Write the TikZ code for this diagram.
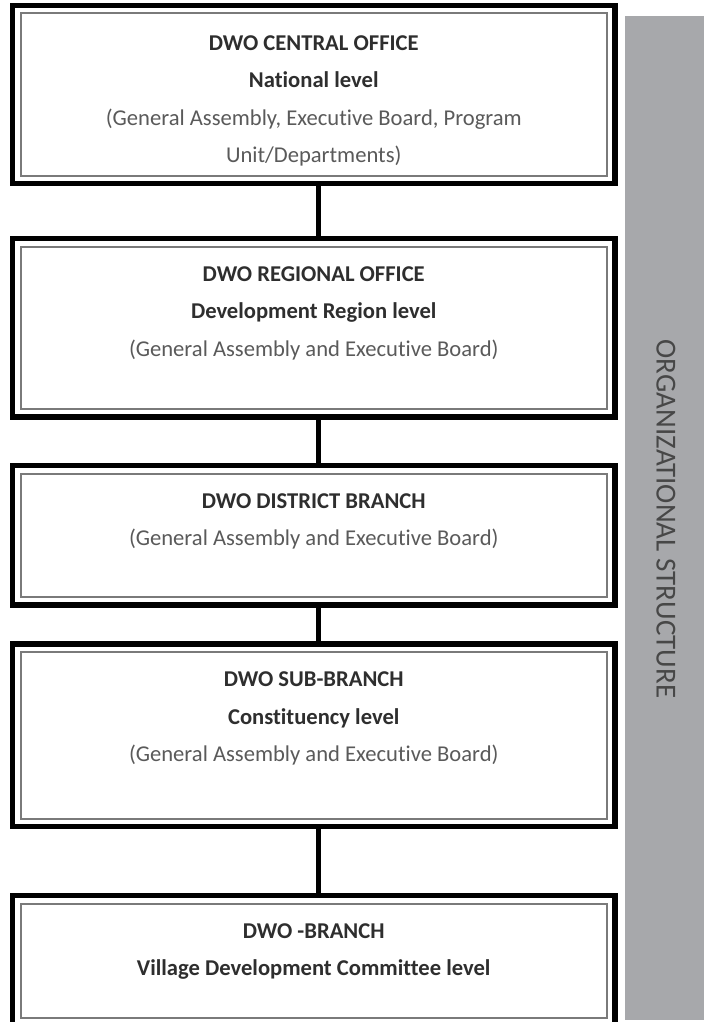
\documentclass[tikz,border=0pt]{standalone}
\usepackage{fontspec}
\setmainfont{Carlito}[Ligatures=CommonOff]
\usetikzlibrary{positioning}

\definecolor{bandgray}{HTML}{A7A8AB}
\definecolor{bandtext}{HTML}{474747}
\definecolor{titletext}{HTML}{2E2E2E}
\definecolor{bodytext}{HTML}{5A5A5A}
\definecolor{innerline}{HTML}{7A7A7A}

\newcommand{\lvlhead}[1]{\textbf{\color{titletext}#1}}

\begin{document}
\begin{tikzpicture}[x=0.5pt, y=-0.5pt,
		lvlbox/.style={draw=black, line width=2.75pt, outer sep=0pt, fill=white, minimum width=301.25pt},
		lvltext/.style={inner sep=0pt, align=center, text=bodytext, font=\fontsize{11.3}{18.75}\selectfont},
		inframe/.style={draw=innerline, line width=1pt},
		link/.style={draw=black, line width=2.5pt}]

		\useasboundingbox (0,0) rectangle (704,1022);

		% side band
		\node[fill=bandgray, inner sep=0pt, minimum width=39.5pt, minimum height=502pt] (band) at (664.5,518) {};
		\node[rotate=-90, inner sep=0pt, text=bandtext, font=\fontsize{14.5}{17}\selectfont] (bandlabel) at (666,519) {ORGANIZATIONAL STRUCTURE};

		% levels
		\node[lvlbox, minimum height=89pt] (central) at (313.75,94.5) {};
		\node[lvlbox, minimum height=89.25pt] (regional) at (313.75,327.75) {};
		\node[lvlbox, minimum height=69.75pt] (district) at (313.75,535.25) {};
		\node[lvlbox, minimum height=91.25pt] (subbranch) at (313.75,735.25) {};
		\node[lvlbox, minimum height=65pt] (village) at (313.75,960.5) {};

		\draw[inframe] ([shift={(8,8)}]central.north west) rectangle ([shift={(-8,-8)}]central.south east);
		\draw[inframe] ([shift={(8,8)}]regional.north west) rectangle ([shift={(-8,-8)}]regional.south east);
		\draw[inframe] ([shift={(8,8)}]district.north west) rectangle ([shift={(-8,-8)}]district.south east);
		\draw[inframe] ([shift={(8,8)}]subbranch.north west) rectangle ([shift={(-8,-8)}]subbranch.south east);
		\draw[inframe] ([shift={(8,8)}]village.north west) rectangle ([shift={(-8,-8)}]village.south east);

		\node[lvltext, below=14.8pt of central.north] (centraltext) {\lvlhead{DWO CENTRAL OFFICE}\\ \lvlhead{National level}\\ (General Assembly, Executive Board, Program\\ Unit/Departments)};
		\node[lvltext, below=13.8pt of regional.north] (regionaltext) {\lvlhead{DWO REGIONAL OFFICE}\\ \lvlhead{Development Region level}\\ (General Assembly and Executive Board)};
		\node[lvltext, below=13.8pt of district.north] (districttext) {\lvlhead{DWO DISTRICT BRANCH}\\ (General Assembly and Executive Board)};
		\node[lvltext, below=13.8pt of subbranch.north] (subbranchtext) {\lvlhead{DWO SUB-BRANCH}\\ \lvlhead{Constituency level}\\ (General Assembly and Executive Board)};
		\node[lvltext, below=13.8pt of village.north] (villagetext) {\lvlhead{DWO -BRANCH}\\ \lvlhead{Village Development Committee level}};

		\draw[link] ([xshift=2.4pt]central.south) -- ([xshift=2.4pt]regional.north);
		\draw[link] ([xshift=2.4pt]regional.south) -- ([xshift=2.4pt]district.north);
		\draw[link] ([xshift=2.4pt]district.south) -- ([xshift=2.4pt]subbranch.north);
		\draw[link] ([xshift=2.4pt]subbranch.south) -- ([xshift=2.4pt]village.north);
	\end{tikzpicture}
\end{document}
